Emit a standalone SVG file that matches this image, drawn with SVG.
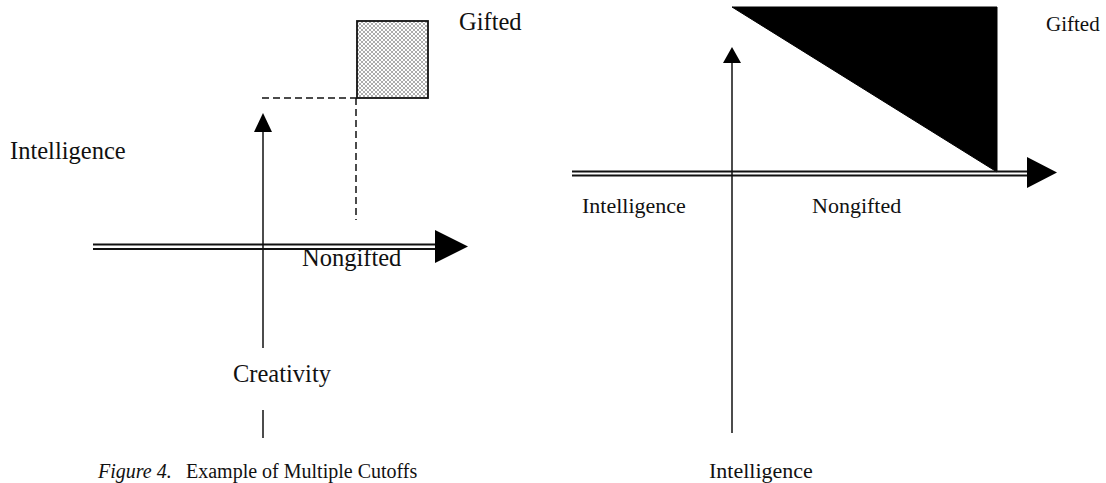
<svg xmlns="http://www.w3.org/2000/svg" width="1106" height="483" viewBox="0 0 1106 483">
  <defs>
    <pattern id="hatch" width="4" height="4" patternUnits="userSpaceOnUse">
      <rect width="4" height="4" fill="#ffffff"/>
      <path d="M0,0 L4,4 M4,0 L0,4" stroke="#8a8a8a" stroke-width="0.7"/>
    </pattern>
  </defs>
  <style>
    .lbl { font-family: "Liberation Serif", "Times New Roman", serif; fill: #111; }
    .big { font-size: 24.5px; }
    .mid { font-size: 22px; }
    .axis { stroke: #111; stroke-width: 1.5; fill: none; }
    .rail { stroke: #111; stroke-width: 2.2; fill: none; }
    .dash { stroke: #111; stroke-width: 1.5; fill: none; stroke-dasharray: 7 4; }
    .head { fill: #000; }
  </style>

  <rect width="1106" height="483" fill="#ffffff"/>

  <!-- Multiple cutoffs chart -->
  <g id="cutoff-region">
    <rect x="357" y="21" width="71" height="77" fill="url(#hatch)" stroke="#111" stroke-width="1.8"/>
  </g>
  <g id="cutoff-chart-connectors">
    <path class="dash" d="M262,98 H357"/>
    <path class="dash" d="M356,98 V220"/>
    <!-- creativity axis -->
    <path class="axis" d="M263,131 V348"/>
    <path class="axis" d="M263,410 V438"/>
    <polygon class="head" points="263,113 254,132 272,132"/>
    <!-- intelligence axis -->
    <path class="rail" d="M93,244.5 H436"/>
    <path class="rail" d="M93,249 H436"/>
    <polygon class="head" points="435,230 468,246.5 435,263"/>
  </g>
  <g id="cutoff-labels">
    <text class="lbl big" x="459" y="30">Gifted</text>
    <text class="lbl big" x="10" y="159">Intelligence</text>
    <text class="lbl big" x="302" y="266">Nongifted</text>
    <text class="lbl big" x="233" y="382">Creativity</text>
    <text class="lbl" font-size="20" x="98" y="478"><tspan font-style="italic">Figure 4.</tspan><tspan x="186">Example of Multiple Cutoffs</tspan></text>
  </g>

  <!-- Compensatory chart -->
  <g id="compensatory-region">
    <polygon points="732,7 997,7 997,172" fill="#000" stroke="#000" stroke-width="1"/>
  </g>
  <g id="compensatory-chart-connectors">
    <path class="axis" d="M732,62 V433"/>
    <polygon class="head" points="732,47 723,63 741,63"/>
    <path class="rail" d="M572,171.5 H1028"/>
    <path class="rail" d="M572,175.5 H1028"/>
    <polygon class="head" points="1027,157 1057,172.5 1027,188"/>
  </g>
  <g id="compensatory-labels">
    <text class="lbl" font-size="21" x="1046" y="31">Gifted</text>
    <text class="lbl mid" x="582" y="213">Intelligence</text>
    <text class="lbl mid" x="812" y="213">Nongifted</text>
    <text class="lbl mid" x="709" y="478">Intelligence</text>
  </g>
</svg>
